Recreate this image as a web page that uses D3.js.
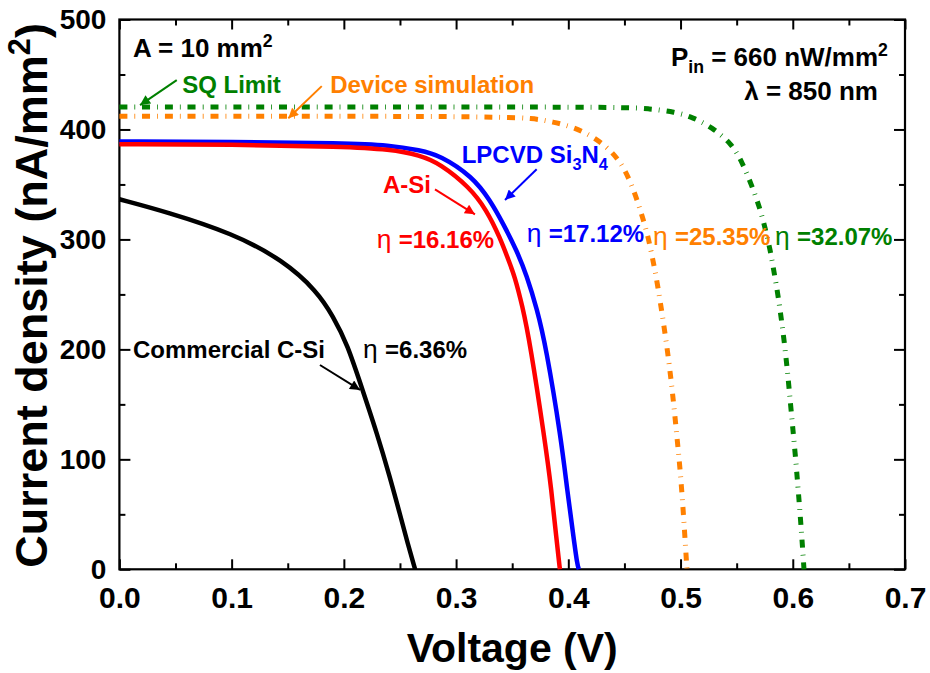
<!DOCTYPE html>
<html>
<head>
<meta charset="utf-8">
<script src="https://cdn.jsdelivr.net/npm/d3@7"></script>
<style>
  body { margin: 0; background: #fff; }
  svg text { font-family: "Liberation Sans", Arial, sans-serif; font-weight: bold; }
</style>
</head>
<body>
<div id="chart"></div>
<script>
// axis ticks
const xTicks = [0, 0.1, 0.2, 0.3, 0.4, 0.5, 0.6, 0.7]
const xMinor = [0.05, 0.15, 0.25, 0.35, 0.45, 0.55, 0.65]
const yTicks = [0, 100, 200, 300, 400, 500]
const yMinor = [50, 150, 250, 350, 450]

// J-V curves, voltage in V, current density in nA/mm2
const sqV = [0, 0.1, 0.2, 0.3, 0.4, 0.45, 0.472, 0.495, 0.511, 0.528, 0.546, 0.555, 0.5635, 0.5705, 0.5755, 0.58, 0.5835, 0.587, 0.5935, 0.598, 0.6023, 0.6042, 0.6058, 0.6073, 0.6087, 0.61]
const sqJ = [420.5, 420.5, 420.5, 420.5, 420.3, 420, 419, 416, 411, 402, 386.6, 370, 349, 329, 310, 290, 269, 249, 200, 150, 104, 80, 60, 40, 20, 0]

const devV = [0, 0.1, 0.2, 0.3, 0.34, 0.368, 0.386, 0.405, 0.423, 0.439, 0.45, 0.459, 0.465, 0.4708, 0.475, 0.479, 0.4885, 0.494, 0.497, 0.499, 0.5007, 0.5022, 0.5035, 0.5048, 0.5057]
const devJ = [412, 412, 412, 411.8, 411, 410.3, 407, 402, 393, 380, 365, 343, 324, 304, 283, 263, 200, 150, 118, 97.5, 76.6, 55.7, 35.7, 14.8, 0]

const lpV = [0, 0.1, 0.2, 0.241, 0.268, 0.2855, 0.3148, 0.33, 0.3416, 0.354, 0.363, 0.372, 0.38, 0.3937, 0.399, 0.405, 0.408, 0.4094]
const lpJ = [389, 388.8, 387.5, 385.7, 381, 376.6, 357, 336, 315, 290, 267, 237, 203, 118, 72, 26.6, 4, 0]

const aSiV = [0, 0.1, 0.2, 0.241, 0.268, 0.2855, 0.312, 0.327, 0.339, 0.3477, 0.352, 0.359, 0.366, 0.379, 0.385, 0.3895, 0.3925]
const aSiJ = [386.6, 386.2, 384.5, 382, 376.6, 369, 347.5, 327, 302, 278.5, 267, 240, 205, 118, 72, 26.6, 0]

const cSiV = [0, 0.042, 0.101, 0.146, 0.176, 0.1905, 0.203, 0.217, 0.2294, 0.241, 0.25, 0.257, 0.2635]
const cSiJ = [336.5, 325, 305.5, 281, 253, 230, 205, 162, 124, 84, 50, 23, 0]

const series = [
  { v: sqV, j: sqJ, color: "#008000", dash: "8,7,0.8,7", width: 5 },
  { v: devV, j: devJ, color: "#ff8000", dash: "8,7,0.8,7", width: 5 },
  { v: cSiV, j: cSiJ, color: "#000000", dash: null, width: 4.5 },
  { v: lpV, j: lpJ, color: "#0000ff", dash: null, width: 4.5 },
  { v: aSiV, j: aSiJ, color: "#ff0000", dash: null, width: 4.5 }
]

const W = 930, H = 673
const margin = { top: 19.5, right: 25, bottom: 103.7, left: 119.4 }
const width = W - margin.left - margin.right
const height = H - margin.top - margin.bottom

const x = d3.scaleLinear().domain([0, 0.7]).range([0, width])
const y = d3.scaleLinear().domain([0, 500]).range([height, 0])

const svg = d3.select("#chart").append("svg")
  .attr("width", W)
  .attr("height", H)

const g = svg.append("g")
  .attr("transform", "translate(" + margin.left + "," + margin.top + ")")

// ticks on all four sides, pointing inward
function ticks(axis, tx, ty) {
  const a = g.append("g")
    .attr("transform", "translate(" + tx + "," + ty + ")")
    .call(axis)
  a.select(".domain").remove()
  a.selectAll("line").attr("stroke-width", 2)
  return a
}

const xAx = ticks(d3.axisBottom(x).tickValues(xTicks).tickSizeInner(-10).tickSizeOuter(0)
  .tickPadding(17).tickFormat(d3.format(".1f")), 0, height)
xAx.selectAll("text").attr("font-size", 30).attr("fill", "#000")
ticks(d3.axisBottom(x).tickValues(xMinor).tickSizeInner(-6).tickFormat(""), 0, height)
ticks(d3.axisTop(x).tickValues(xTicks).tickSizeInner(-10).tickFormat(""), 0, 0)
ticks(d3.axisTop(x).tickValues(xMinor).tickSizeInner(-6).tickFormat(""), 0, 0)

const yAx = ticks(d3.axisLeft(y).tickValues(yTicks).tickSizeInner(-11).tickSizeOuter(0)
  .tickPadding(13).tickFormat(d3.format("d")), 0, 0)
yAx.selectAll("text").attr("font-size", 28).attr("fill", "#000")
ticks(d3.axisLeft(y).tickValues(yMinor).tickSizeInner(-6).tickFormat(""), 0, 0)
ticks(d3.axisRight(y).tickValues(yTicks).tickSizeInner(-11).tickFormat(""), width, 0)
ticks(d3.axisRight(y).tickValues(yMinor).tickSizeInner(-6).tickFormat(""), width, 0)

g.append("rect")
  .attr("width", width)
  .attr("height", height)
  .attr("fill", "none")
  .attr("stroke", "#000")
  .attr("stroke-width", 2.2)

// curves
const line = d3.line()
  .curve(d3.curveBasis)
  .x((d) => { return x(d[0]) })
  .y((d) => { return y(d[1]) })

series.forEach((s) => {
  g.append("path")
    .attr("d", line(d3.zip(s.v, s.j)))
    .attr("fill", "none")
    .attr("stroke", s.color)
    .attr("stroke-width", s.width)
    .attr("stroke-dasharray", s.dash)
})

// arrows
const defs = svg.append("defs")
const arrowColors = ["#008000", "#ff8000", "#0000ff", "#ff0000", "#000000"]
arrowColors.forEach((c) => {
  defs.append("marker")
    .attr("id", "arr" + c.slice(1))
    .attr("viewBox", "0 0 10 10")
    .attr("refX", 10).attr("refY", 5)
    .attr("markerWidth", 6).attr("markerHeight", 5)
    .attr("markerUnits", "strokeWidth")
    .attr("orient", "auto")
    .append("path")
      .attr("d", "M0,0L10,5L0,10Z")
      .attr("fill", c)
})

const arrows = [
  { from: [0.0511, 444.9], to: [0.0184, 422.2], color: "#008000" },
  { from: [0.1803, 439.4], to: [0.1505, 410.2], color: "#ff8000" },
  { from: [0.3718, 363.8], to: [0.3436, 335.9], color: "#0000ff" },
  { from: [0.2812, 345.5], to: [0.3168, 322.8], color: "#ff0000" },
  { from: [0.1787, 185.8], to: [0.2144, 163.1], color: "#000000" }
]
arrows.forEach((a) => {
  g.append("line")
    .attr("x1", x(a.from[0])).attr("y1", y(a.from[1]))
    .attr("x2", x(a.to[0])).attr("y2", y(a.to[1]))
    .attr("stroke", a.color)
    .attr("stroke-width", 2)
    .attr("marker-end", "url(#arr" + a.color.slice(1) + ")")
})

// rich text: parts with optional sup / sub / greek
function label(parent, px, py, parts, opts) {
  const t = parent.append("text")
    .attr("x", px).attr("y", py)
    .attr("font-size", opts.size)
    .attr("fill", opts.color)
    .attr("text-anchor", opts.anchor || "start")
  let shift = 0
  parts.forEach((p) => {
    const s = t.append("tspan").text(p.t)
    const off = p.sup ? -opts.size * 0.38 : p.sub ? opts.size * 0.27 : 0
    s.attr("dy", off - shift)
    shift = off
    if (p.sup || p.sub) s.attr("font-size", opts.size * 0.68)
    if (p.greek) s.attr("font-weight", "normal").attr("font-size", opts.size * 1.1)
  })
  return t
}

const notes = [
  { at: [0.0121, 465.8], parts: [{ t: "A = 10 mm" }, { t: "2", sup: true }], color: "#000", size: 26 },
  { at: [0.6848, 457.7], parts: [{ t: "P" }, { t: "in", sub: true }, { t: " = 660 nW/mm" }, { t: "2", sup: true }], color: "#000", size: 26, anchor: "end" },
  { at: [0.6759, 426.7], parts: [{ t: "λ = 850 nm" }], color: "#000", size: 26, anchor: "end" },
  { at: [0.0559, 433.2], parts: [{ t: "SQ Limit" }], color: "#008000", size: 24 },
  { at: [0.1878, 433.2], parts: [{ t: "Device simulation" }], color: "#ff8000", size: 24 },
  { at: [0.305, 369.2], parts: [{ t: "LPCVD Si" }, { t: "3", sub: true }, { t: "N" }, { t: "4", sub: true }], color: "#0000ff", size: 24 },
  { at: [0.2349, 341.9], parts: [{ t: "A-Si" }], color: "#ff0000", size: 24 },
  { at: [0.2293, 292.2], parts: [{ t: "η ", greek: true }, { t: "=16.16%" }], color: "#ff0000", size: 24 },
  { at: [0.3629, 297.7], parts: [{ t: "η ", greek: true }, { t: "=17.12%" }], color: "#0000ff", size: 24 },
  { at: [0.4754, 294.9], parts: [{ t: "η ", greek: true }, { t: "=25.35%" }], color: "#ff8000", size: 24 },
  { at: [0.5842, 294.9], parts: [{ t: "η ", greek: true }, { t: "=32.07%" }], color: "#008000", size: 24 },
  { at: [0.0121, 192.2], parts: [{ t: "Commercial C-Si" }], color: "#000", size: 24 },
  { at: [0.2171, 192.2], parts: [{ t: "η ", greek: true }, { t: "=6.36%" }], color: "#000", size: 24 }
]
notes.forEach((n) => {
  label(g, x(n.at[0]), y(n.at[1]), n.parts, { size: n.size, color: n.color, anchor: n.anchor })
})

// axis titles
label(svg, margin.left + width / 2, 661.5, [{ t: "Voltage (V)" }], { size: 41, color: "#000", anchor: "middle" })

const yTitle = svg.append("g")
  .attr("transform", "translate(47," + (margin.top + height / 2 + 1) + ") rotate(-90)")
label(yTitle, 0, 0, [{ t: "Current density (nA/mm" }, { t: "2", sup: true }, { t: ")" }], { size: 45, color: "#000", anchor: "middle" })
</script>
</body>
</html>
